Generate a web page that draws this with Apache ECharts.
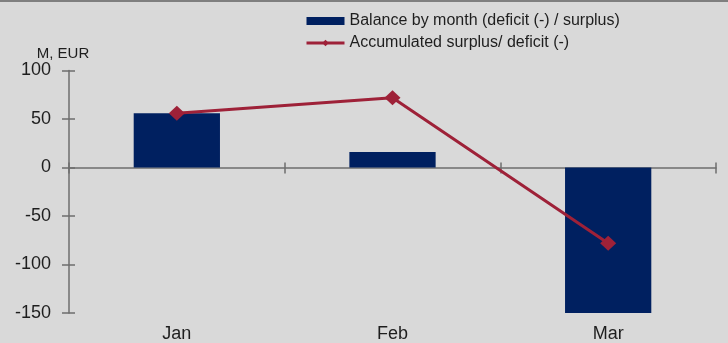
<!DOCTYPE html>
<html>
<head>
<meta charset="utf-8">
<script src="https://cdn.jsdelivr.net/npm/echarts@6/dist/echarts.min.js"></script>
<style>
  html, body { margin: 0; padding: 0; background: #d9d9d9; }
  #chart { width: 728px; height: 343px; }
</style>
</head>
<body>
<div id="chart"></div>
<script>
// Monthly budget balance and its running total, M EUR
const months = ['Jan', 'Feb', 'Mar'];
const monthlyBalance = [56, 16, -150];
const accumulated = [56, 72, -78];
const yTicks = { min: -150, max: 100, interval: 50 };

const barName = 'Balance by month (deficit (-) / surplus)';
const lineName = 'Accumulated surplus/ deficit (-)';

const font = 'Arial, "Liberation Sans", sans-serif';
const axisGray = '#6e6e6e';
const textColor = '#1e1e1e';
const barColor = '#002060';
const lineColor = '#9e2138';

const chart = echarts.init(document.getElementById('chart'));

const valueAxisBase = {
  type: 'value',
  min: yTicks.min,
  max: yTicks.max,
  interval: yTicks.interval,
  splitLine: { show: false }
};

chart.setOption({
  backgroundColor: '#d9d9d9',
  animation: false,
  graphic: [{
    type: 'rect',
    left: 0, top: 0,
    shape: { width: 728, height: 2 },
    style: { fill: '#7f7f7f' }
  }],
  legend: {
    orient: 'vertical',
    left: 300,
    top: 7,
    itemWidth: 38,
    itemHeight: 8,
    itemGap: 4,
    selectedMode: false,
    textStyle: { fontFamily: font, fontSize: 16, color: textColor, lineHeight: 18 },
    data: [
      { name: barName, icon: 'rect', itemStyle: { color: barColor } },
      { name: lineName, lineStyle: { width: 3, color: lineColor } }
    ]
  },
  grid: { left: 69, right: 12, top: 70.5, bottom: 30, containLabel: false },
  xAxis: [
    {
      type: 'category',
      data: months,
      position: 'bottom',
      axisLine: { onZero: true, lineStyle: { color: axisGray, width: 1.5 } },
      axisTick: { show: true, inside: false, length: 6, lineStyle: { color: axisGray, width: 1.5 } },
      axisLabel: { show: false }
    },
    {
      type: 'category',
      data: months,
      position: 'bottom',
      axisLine: { show: false, onZero: false },
      axisTick: { show: false },
      axisLabel: { show: true, margin: 12, fontFamily: font, fontSize: 18, color: textColor }
    },
    {
      type: 'category',
      data: months,
      position: 'bottom',
      axisLine: { show: false, onZero: true, lineStyle: { color: axisGray } },
      axisTick: { show: true, inside: true, length: 5, lineStyle: { color: axisGray, width: 1.5 } },
      axisLabel: { show: false }
    }
  ],
  yAxis: [
    Object.assign({}, valueAxisBase, {
      name: 'M, EUR',
      nameLocation: 'end',
      nameGap: 9,
      nameTextStyle: { fontFamily: font, fontSize: 15, color: textColor, align: 'center', padding: [0, 12, 0, 0] },
      axisLine: { show: true, lineStyle: { color: axisGray, width: 1.5 } },
      axisTick: { show: true, length: 7, lineStyle: { color: axisGray, width: 1.5 } },
      axisLabel: { margin: 18, fontFamily: font, fontSize: 18, color: textColor }
    }),
    Object.assign({}, valueAxisBase, {
      position: 'left',
      axisLine: { show: false },
      axisTick: { show: true, inside: true, length: 6, lineStyle: { color: axisGray, width: 1.5 } },
      axisLabel: { show: false }
    })
  ],
  series: [
    {
      name: barName,
      type: 'bar',
      data: monthlyBalance,
      barWidth: '40%',
      itemStyle: { color: barColor }
    },
    {
      name: lineName,
      type: 'line',
      data: accumulated,
      symbol: 'diamond',
      symbolSize: [16, 15],
      lineStyle: { color: lineColor, width: 3 },
      itemStyle: { color: lineColor },
      z: 5
    }
  ]
});
</script>
</body>
</html>
